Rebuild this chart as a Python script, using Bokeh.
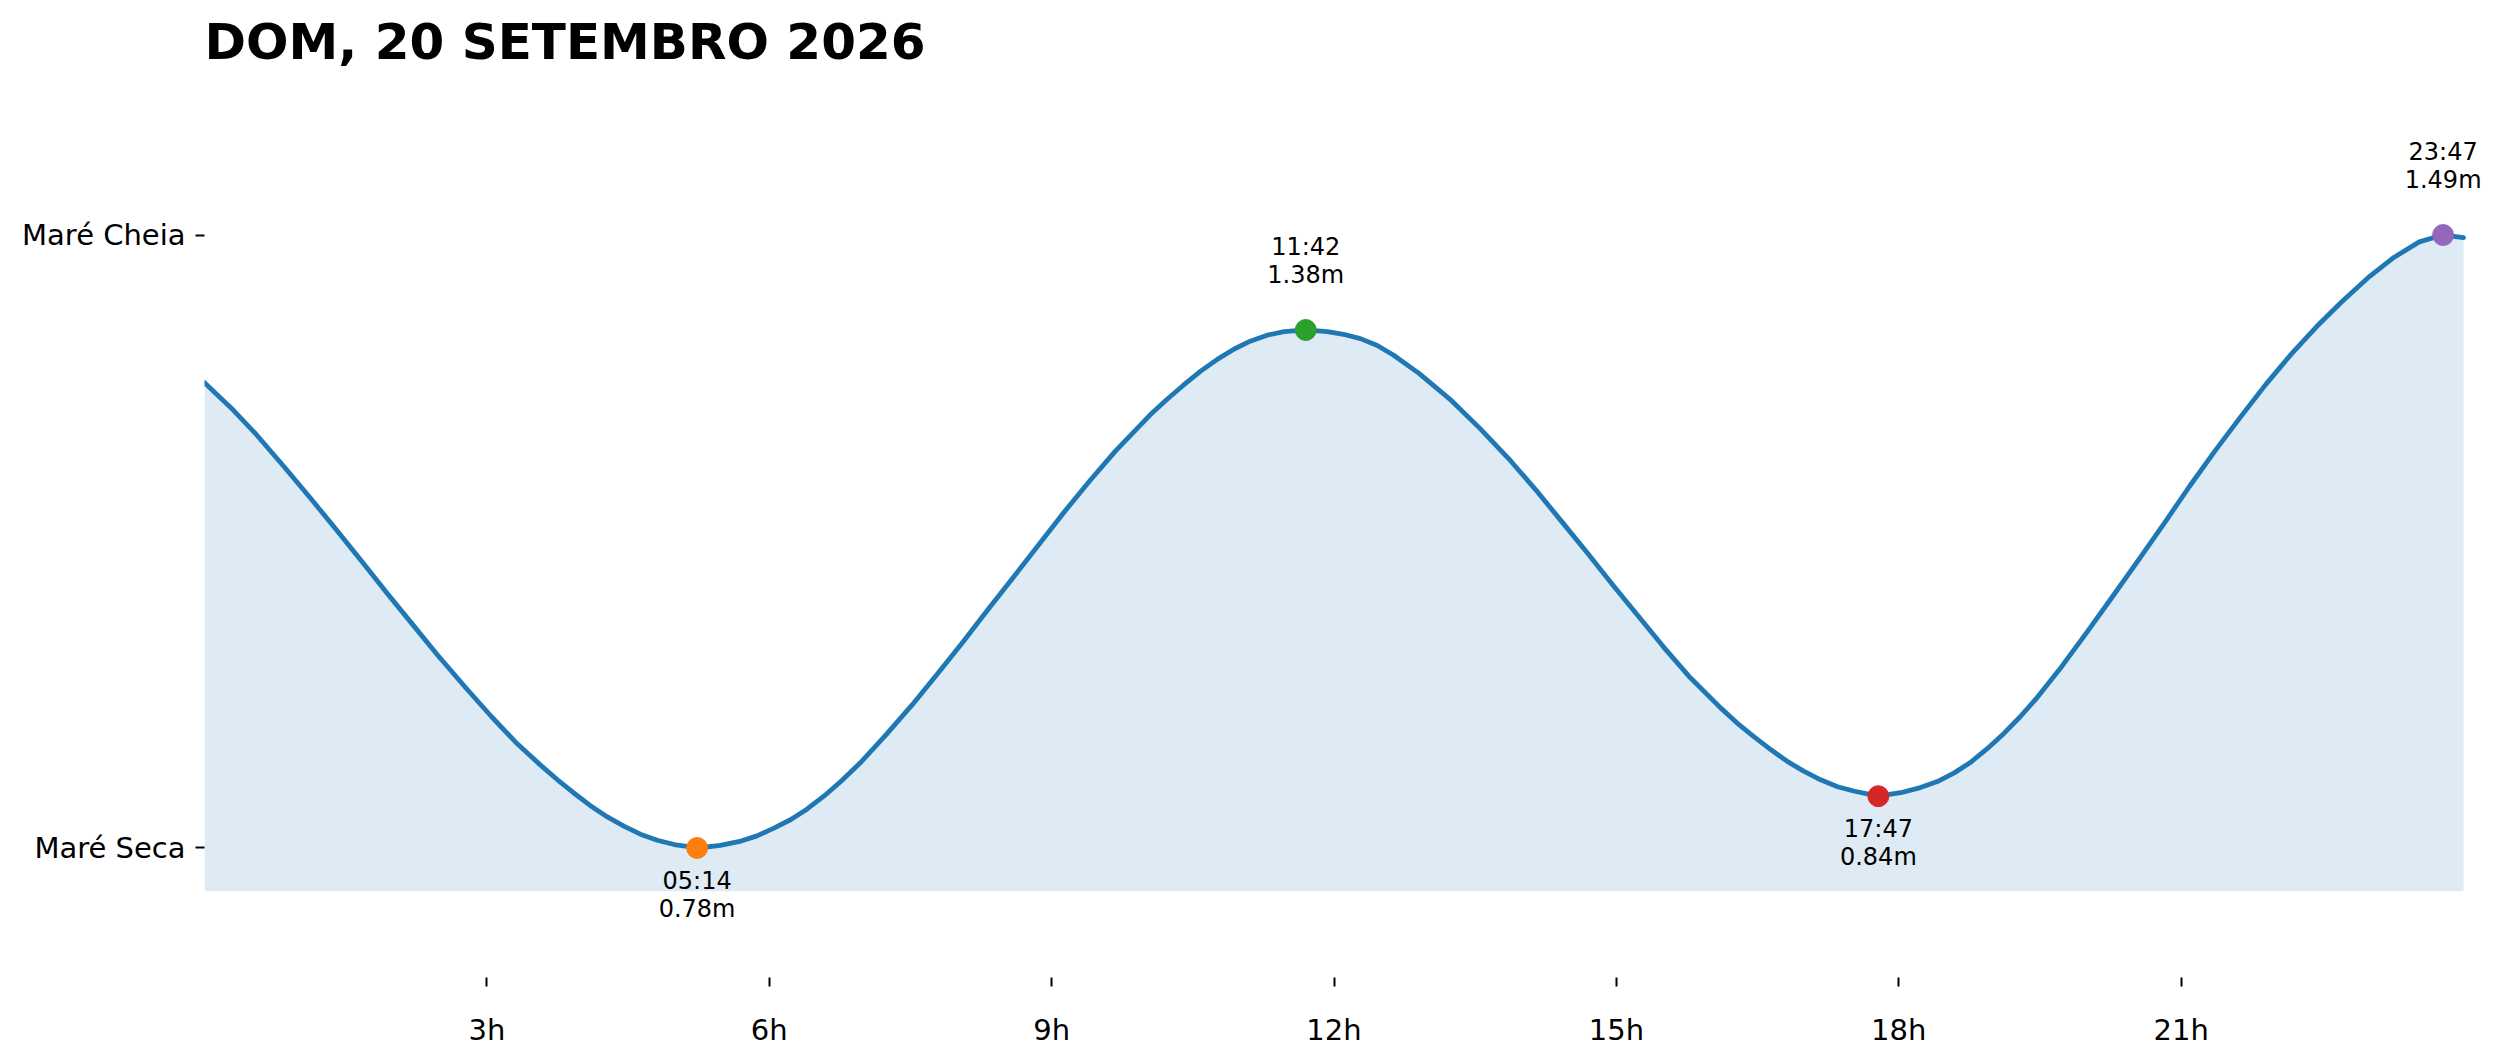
from bokeh.plotting import figure
from bokeh.models import ColumnDataSource, FixedTicker, LabelSet, Label, Range1d
from bokeh.core.properties import value
from bokeh.embed import file_html
from bokeh.resources import INLINE

# ---------------- data ----------------
title_text = "DOM, 20 SETEMBRO 2026"

tide_hours = [0.00, 0.28, 0.55, 0.85, 1.12, 1.39, 1.67, 1.94, 2.21, 2.48,
              2.78, 3.05, 3.32, 3.57, 3.75, 3.92, 4.10, 4.28, 4.46, 4.63,
              4.81, 4.99, 5.24, 5.48, 5.70, 5.87, 6.05, 6.23, 6.40, 6.58,
              6.76, 6.97, 7.24, 7.52, 7.79, 8.06, 8.33, 8.46, 8.84, 9.14,
              9.41, 9.68, 10.05, 10.23, 10.40, 10.58, 10.76, 10.94, 11.11, 11.29,
              11.47, 11.70, 11.93, 12.10, 12.28, 12.46, 12.63, 12.90, 13.23, 13.55,
              13.88, 14.15, 14.42, 14.69, 14.96, 15.23, 15.50, 15.77, 16.11, 16.28,
              16.46, 16.64, 16.82, 16.99, 17.17, 17.35, 17.52, 17.78, 18.02, 18.23,
              18.41, 18.59, 18.76, 18.94, 19.12, 19.29, 19.46, 19.73, 20.00, 20.27,
              20.55, 20.82, 21.09, 21.36, 21.63, 21.90, 22.17, 22.44, 22.71, 22.98,
              23.26, 23.53, 23.78, 24.00]
tide_m = [1.319, 1.290, 1.259, 1.221, 1.186, 1.150, 1.112, 1.075, 1.039, 1.003,
          0.965, 0.932, 0.901, 0.876, 0.859, 0.844, 0.829, 0.816, 0.805, 0.796,
          0.789, 0.784, 0.780, 0.783, 0.788, 0.794, 0.803, 0.813, 0.825, 0.840,
          0.857, 0.879, 0.911, 0.946, 0.982, 1.019, 1.057, 1.075, 1.128, 1.170,
          1.206, 1.240, 1.282, 1.300, 1.316, 1.332, 1.346, 1.358, 1.367, 1.374,
          1.378, 1.380, 1.378, 1.375, 1.370, 1.362, 1.351, 1.330, 1.300, 1.266,
          1.228, 1.194, 1.158, 1.122, 1.085, 1.049, 1.013, 0.979, 0.942, 0.925,
          0.909, 0.894, 0.880, 0.869, 0.859, 0.851, 0.846, 0.840, 0.844, 0.850,
          0.857, 0.867, 0.879, 0.895, 0.913, 0.932, 0.953, 0.990, 1.030, 1.071,
          1.114, 1.156, 1.199, 1.240, 1.279, 1.317, 1.352, 1.384, 1.413, 1.440,
          1.464, 1.482, 1.490, 1.487]

extreme_labels = ["05:14", "11:42", "17:47", "23:47"]
extreme_hours = [5 + 14 / 60, 11 + 42 / 60, 17 + 47 / 60, 23 + 47 / 60]
extreme_m = [0.78, 1.38, 0.84, 1.49]
extreme_kind = ["low", "high", "low", "high"]
extreme_colors = ["#ff7f0e", "#2ca02c", "#d62728", "#9467bd"]

x_tick_hours = [3, 6, 9, 12, 15, 18, 21]
x_tick_labels = ["3h", "6h", "9h", "12h", "15h", "18h", "21h"]
y_tick_labels = ["Maré Seca", "Maré Cheia"]

# ---------------- layout (pixels) ----------------
FONT = "DejaVu Sans"
W, H = 2491, 1054
AX_LEFT, AX_RIGHT = 204, 2463      # where the first and last hour fall
AX_TOP, AX_BOTTOM = 105, 977       # where hi+0.15 and lo-0.15 fall
FRAME_RIGHT = W

lo = min(extreme_m)
hi = max(extreme_m)
y0, y1 = lo - 0.15, hi + 0.15
y_end = y1 + AX_TOP / (AX_BOTTOM - AX_TOP) * (y1 - y0)
x0, x1 = tide_hours[0], tide_hours[-1]
x_end = x1 + (FRAME_RIGHT - AX_RIGHT) / (AX_RIGHT - AX_LEFT) * (x1 - x0)

p = figure(width=W, height=H, output_backend="svg", toolbar_location=None,
           x_range=Range1d(x0, x_end), y_range=Range1d(y0, y_end),
           min_border_left=AX_LEFT, min_border_right=0,
           min_border_top=0, min_border_bottom=H - AX_BOTTOM,
           title=None)
p.background_fill_color = "white"
p.border_fill_color = "white"
p.outline_line_color = None
p.xgrid.visible = False
p.ygrid.visible = False

# x axis
p.xaxis.ticker = FixedTicker(ticks=x_tick_hours)
p.xaxis.major_label_overrides = dict(zip(x_tick_hours, x_tick_labels))
p.xaxis.axis_line_color = None
p.xaxis.minor_tick_line_color = None
p.xaxis.major_tick_in = 0
p.xaxis.major_tick_out = 9
p.xaxis.major_tick_line_color = "black"
p.xaxis.major_tick_line_width = 2
p.xaxis.major_label_text_font = FONT
p.xaxis.major_label_text_font_size = "29px"
p.xaxis.major_label_text_color = "black"
p.xaxis.major_label_standoff = 26

# y axis
y_ticks = [lo, hi]
p.yaxis.ticker = FixedTicker(ticks=y_ticks)
p.yaxis.major_label_overrides = dict(zip(y_ticks, y_tick_labels))
p.yaxis.axis_line_color = None
p.yaxis.minor_tick_line_color = None
p.yaxis.major_tick_in = 0
p.yaxis.major_tick_out = 9
p.yaxis.major_tick_line_color = "black"
p.yaxis.major_tick_line_width = 2
p.yaxis.major_label_text_font = FONT
p.yaxis.major_label_text_font_size = "29px"
p.yaxis.major_label_text_color = "black"
p.yaxis.major_label_standoff = 10

# title (drawn inside the top of the frame, left-aligned to the axes)
p.add_layout(Label(x=x0, y=y_end, x_offset=0, y_offset=-41, text=title_text,
                   text_font=FONT, text_font_size="50px", text_font_style="bold",
                   text_color="black", text_align="left",
                   text_baseline="alphabetic"))

# area + line
base = [lo - 0.05] * len(tide_hours)
p.varea(x=tide_hours, y1=base, y2=tide_m, fill_color="#1f77b4", fill_alpha=0.15)
p.line(tide_hours, tide_m, line_color="#1f77b4", line_width=4.8,
       line_join="round", line_cap="round")

# extremes
ext = ColumnDataSource(dict(x=extreme_hours, y=extreme_m, c=extreme_colors))
p.scatter("x", "y", source=ext, size=21, fill_color="c", line_color="c")


def subset(kind):
    idx = [i for i, k in enumerate(extreme_kind) if k == kind]
    return ColumnDataSource(dict(
        x=[extreme_hours[i] for i in idx],
        y=[extreme_m[i] for i in idx],
        t=[extreme_labels[i] for i in idx],
        h=["%.2fm" % extreme_m[i] for i in idx]))


hi_src = subset("high")
lo_src = subset("low")
common = dict(x="x", y="y", text_align="center", text_baseline="middle",
              text_font=value(FONT), text_font_size="24px", text_color="black")
p.add_layout(LabelSet(source=hi_src, text="t", y_offset=83, **common))
p.add_layout(LabelSet(source=hi_src, text="h", y_offset=55, **common))
p.add_layout(LabelSet(source=lo_src, text="t", y_offset=-33, **common))
p.add_layout(LabelSet(source=lo_src, text="h", y_offset=-61, **common))

open("out.html", "w").write(file_html(p, INLINE))
